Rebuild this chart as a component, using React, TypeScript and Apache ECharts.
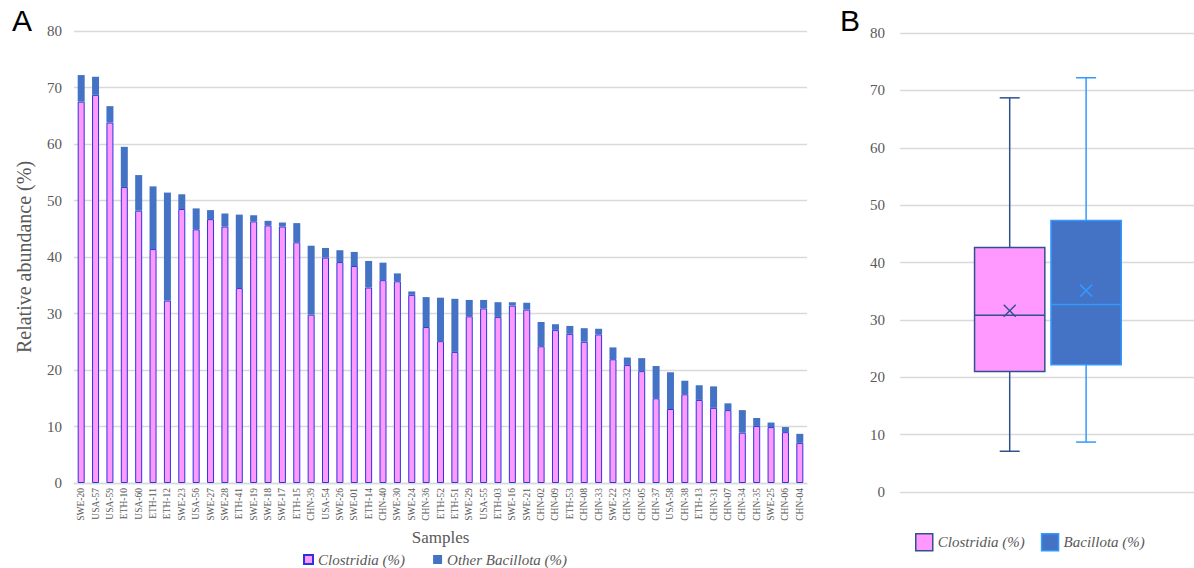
import { useEffect, useRef } from 'react';
import * as echarts from 'echarts';

const samples = [
  'SWE-20', 'USA-57', 'USA-59', 'ETH-10', 'USA-60', 'ETH-11', 'ETH-12', 'SWE-23', 'USA-56', 'SWE-27',
  'SWE-28', 'ETH-41', 'SWE-19', 'SWE-18', 'SWE-17', 'ETH-15', 'CHN-39', 'USA-54', 'SWE-26', 'SWE-01',
  'ETH-14', 'CHN-40', 'SWE-30', 'SWE-24', 'CHN-36', 'ETH-52', 'ETH-51', 'SWE-29', 'USA-55', 'ETH-03',
  'SWE-16', 'SWE-21', 'CHN-02', 'CHN-09', 'ETH-53', 'CHN-08', 'CHN-33', 'SWE-22', 'CHN-32', 'CHN-05',
  'CHN-37', 'USA-58', 'CHN-38', 'ETH-13', 'CHN-31', 'CHN-07', 'CHN-34', 'CHN-35', 'SWE-25', 'CHN-06',
  'CHN-04',
];

const clostridia = [
  67.5, 68.7, 63.8, 52.4, 48.2, 41.4, 32.3, 48.5, 44.9, 46.7,
  45.4, 34.5, 46.3, 45.6, 45.4, 42.6, 29.8, 39.9, 39.1, 38.4,
  34.6, 35.9, 35.7, 33.3, 27.6, 25.1, 23.2, 29.5, 30.9, 29.4,
  31.4, 30.7, 24.2, 27.1, 26.4, 25.0, 26.3, 21.9, 20.9, 19.8,
  15.0, 13.1, 15.7, 14.7, 13.3, 12.9, 8.9, 10.1, 9.9, 9.0,
  7.1,
];

const otherBacillota = [
  4.7, 3.2, 2.9, 7.1, 6.3, 11.1, 19.1, 2.6, 3.7, 1.6,
  2.3, 13.0, 1.1, 0.8, 0.7, 3.4, 12.2, 1.7, 2.1, 2.5,
  4.7, 3.1, 1.4, 0.6, 5.3, 7.7, 9.4, 2.9, 1.5, 2.6,
  0.6, 1.2, 4.3, 1.0, 1.4, 2.4, 1.0, 2.1, 1.3, 2.3,
  5.7, 6.5, 2.4, 2.6, 3.8, 1.2, 4.0, 1.4, 0.8, 0.9,
  1.6,
];

// box plot: [min, Q1, median, Q3, max]
const boxCategories = ['Clostridia (%)', 'Bacillota (%)'];
const clostridiaStats = [7.1, 21.0, 30.8, 42.6, 68.7];
const bacillotaStats = [8.7, 22.2, 32.7, 47.3, 72.2];
const boxMeans = [31.6, 35.1];

const SERIF = 'Liberation Serif';
const SANS = 'Liberation Sans';
const GRAY = '#595959';
const GRID = '#d9d9d9';
const PINK = '#ff99ff';
const BLUE = '#4472c4';
const DARKBLUE = '#2f528f';
const LIGHTBLUE = '#3399ff';

function makeBox(fill: string, stroke: string) {
  return (params: any, api: any) => {
    const cat = api.value(0);
    const c = api.coord([cat, api.value(1)]);
    const cx = c[0];
    const yMin = c[1];
    const yQ1 = api.coord([cat, api.value(2)])[1];
    const yMed = api.coord([cat, api.value(3)])[1];
    const yQ3 = api.coord([cat, api.value(4)])[1];
    const yMax = api.coord([cat, api.value(5)])[1];
    const yMean = api.coord([cat, api.value(6)])[1];
    const band = api.size([1, 0], [cat, 0])[0];
    const half = band * 0.46;
    const cap = 10;
    const cr = 6;
    const ls = { stroke, lineWidth: 1.5, fill: 'none' };
    return {
      type: 'group',
      children: [
        { type: 'line', shape: { x1: cx, y1: yMax, x2: cx, y2: yQ3 }, style: ls },
        { type: 'line', shape: { x1: cx, y1: yQ1, x2: cx, y2: yMin }, style: ls },
        { type: 'line', shape: { x1: cx - cap, y1: yMax, x2: cx + cap, y2: yMax }, style: ls },
        { type: 'line', shape: { x1: cx - cap, y1: yMin, x2: cx + cap, y2: yMin }, style: ls },
        { type: 'rect', shape: { x: cx - half, y: yQ3, width: half * 2, height: yQ1 - yQ3 }, style: { fill, stroke, lineWidth: 1.5 } },
        { type: 'line', shape: { x1: cx - half, y1: yMed, x2: cx + half, y2: yMed }, style: ls },
        { type: 'line', shape: { x1: cx - cr, y1: yMean - cr, x2: cx + cr, y2: yMean + cr }, style: ls },
        { type: 'line', shape: { x1: cx - cr, y1: yMean + cr, x2: cx + cr, y2: yMean - cr }, style: ls },
      ],
    };
  };
}

export default function App() {
  const ref = useRef<HTMLDivElement>(null);
  useEffect(() => {
    const chart = echarts.init(ref.current!, null, { renderer: 'svg' });
    const legendNames: Record<string, string> = {
      'Clostridia box': 'Clostridia (%)',
      'Bacillota box': 'Bacillota (%)',
    };
    const option: any = {
      animation: false,
      backgroundColor: '#fff',
      title: [
        { text: 'A', left: 7, top: 0, padding: 5, textStyle: { fontSize: 30, fontWeight: 'normal', color: '#000', fontFamily: SANS } },
        { text: 'B', left: 835, top: 0, padding: 5, textStyle: { fontSize: 30, fontWeight: 'normal', color: '#000', fontFamily: SANS } },
      ],
      legend: [
        {
          left: 298,
          top: 547,
          itemWidth: 9,
          itemHeight: 9,
          itemGap: 28,
          textStyle: { fontSize: 15, fontStyle: 'italic', color: GRAY, fontFamily: SERIF },
          data: [
            { name: 'Clostridia (%)', icon: 'rect' },
            { name: 'Other Bacillota (%)', icon: 'rect' },
          ],
        },
        {
          left: 910,
          top: 528,
          itemWidth: 17,
          itemHeight: 17,
          itemGap: 16,
          textStyle: { fontSize: 15, fontStyle: 'italic', color: GRAY, fontFamily: SERIF },
          formatter: (n: string) => legendNames[n] || n,
          data: [
            { name: 'Clostridia box', icon: 'rect', itemStyle: { color: PINK, borderColor: DARKBLUE, borderWidth: 1.5 } },
            { name: 'Bacillota box', icon: 'rect', itemStyle: { color: BLUE, borderColor: LIGHTBLUE, borderWidth: 1.5 } },
          ],
        },
      ],
      grid: [
        { left: 74, top: 31, width: 733, height: 452 },
        { left: 900, top: 33, width: 294, height: 459 },
        { left: 971.5, top: 33, width: 152.8, height: 459 },
      ],
      xAxis: [
        {
          type: 'category',
          gridIndex: 0,
          data: samples,
          axisLine: { lineStyle: { color: GRID, width: 1.3 } },
          axisTick: { show: false },
          axisLabel: { rotate: 90, interval: 0, fontSize: 9.5, color: GRAY, fontFamily: SERIF, margin: 5 },
          name: 'Samples',
          nameLocation: 'middle',
          nameGap: 41,
          nameTextStyle: { fontSize: 17, color: GRAY, fontFamily: SERIF },
        },
        {
          type: 'category',
          gridIndex: 1,
          data: [''],
          axisLine: { show: false },
          axisTick: { show: false },
          axisLabel: { show: false },
        },
        {
          type: 'category',
          gridIndex: 2,
          data: boxCategories,
          axisLine: { show: false },
          axisTick: { show: false },
          axisLabel: { show: false },
        },
      ],
      yAxis: [
        {
          type: 'value',
          gridIndex: 0,
          min: 0,
          max: 80,
          interval: 10,
          axisLine: { show: false },
          axisTick: { show: false },
          axisLabel: { fontSize: 15, color: GRAY, fontFamily: SERIF, margin: 12 },
          splitLine: { lineStyle: { color: GRID, width: 1.3 } },
          name: 'Relative abundance (%)',
          nameLocation: 'middle',
          nameGap: 40,
          nameTextStyle: { fontSize: 20, color: GRAY, fontFamily: SERIF },
        },
        {
          type: 'value',
          gridIndex: 1,
          min: 0,
          max: 80,
          interval: 10,
          axisLine: { show: false },
          axisTick: { show: false },
          axisLabel: { fontSize: 15, color: GRAY, fontFamily: SERIF, margin: 15 },
          splitLine: { lineStyle: { color: GRID, width: 1.3 } },
        },
        {
          type: 'value',
          gridIndex: 2,
          min: 0,
          max: 80,
          interval: 10,
          show: false,
          splitLine: { show: false },
        },
      ],
      series: [
        {
          name: 'Clostridia (%)',
          type: 'bar',
          stack: 'total',
          xAxisIndex: 0,
          yAxisIndex: 0,
          barWidth: 7,
          data: clostridia,
          itemStyle: { color: PINK, borderColor: '#2a35e0', borderWidth: 1 },
        },
        {
          name: 'Other Bacillota (%)',
          type: 'bar',
          stack: 'total',
          xAxisIndex: 0,
          yAxisIndex: 0,
          barWidth: 7,
          data: otherBacillota,
          itemStyle: { color: BLUE },
        },
        {
          name: 'Clostridia box',
          type: 'custom',
          xAxisIndex: 2,
          yAxisIndex: 2,
          renderItem: makeBox(PINK, DARKBLUE),
          encode: { x: 0, y: [1, 2, 3, 4, 5] },
          itemStyle: { color: PINK, borderColor: DARKBLUE },
          data: [[0, ...clostridiaStats, boxMeans[0]]],
        },
        {
          name: 'Bacillota box',
          type: 'custom',
          xAxisIndex: 2,
          yAxisIndex: 2,
          renderItem: makeBox(BLUE, LIGHTBLUE),
          encode: { x: 0, y: [1, 2, 3, 4, 5] },
          itemStyle: { color: BLUE, borderColor: LIGHTBLUE },
          data: [[1, ...bacillotaStats, boxMeans[1]]],
        },
      ],
    };
    chart.setOption(option);
    return () => chart.dispose();
  }, []);
  return <div ref={ref} style={{ position: 'fixed', left: 0, top: 0, width: 1194, height: 568 }} />;
}
